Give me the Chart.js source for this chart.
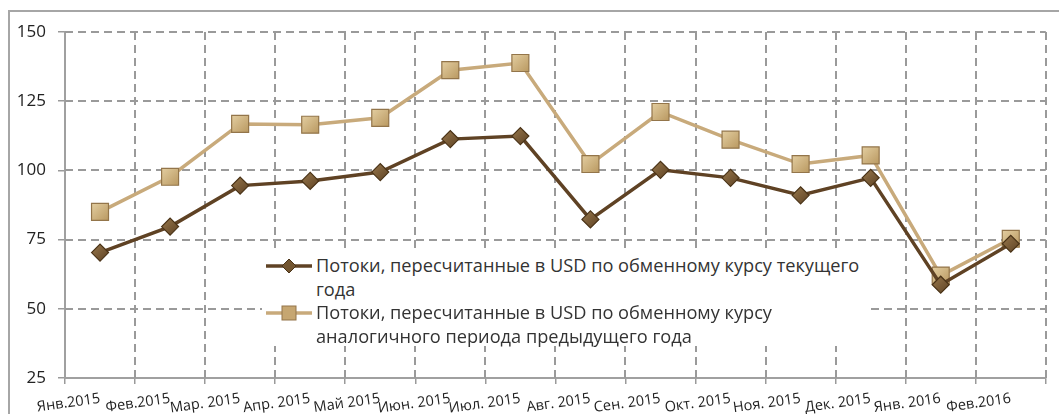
<!DOCTYPE html>
<html>
<head>
<meta charset="utf-8">
<script src="https://cdn.jsdelivr.net/npm/chart.js@4/dist/chart.umd.min.js"></script>
<style>
  html, body { margin: 0; padding: 0; background: #fff; }
  #wrap { position: relative; width: 1059px; height: 414px; overflow: hidden; }
  #frame { position: absolute; left: 8px; top: 10px; width: 1200px; height: 600px;
           border-left: 2px solid #a6a6a6; border-top: 2px solid #a6a6a6; box-sizing: border-box; }
  canvas { position: absolute; left: 0; top: 0; }
  #legend { position: absolute; left: 262px; top: 252px; width: 604px; height: 94px; background: #fff;
            font-family: "Open Sans", sans-serif; font-size: 18.2px; color: #333; }
  .item { position: absolute; left: 0; }
  .item svg { position: absolute; left: 4px; }
  .item .txt { position: absolute; left: 54px; white-space: pre; line-height: 23.5px; }
</style>
</head>
<body>
<div id="wrap">
  <div id="frame"></div>
  <canvas id="c" width="1059" height="414"></canvas>
  <div id="legend"></div>
</div>
<script>
const categories = ['Янв.2015','Фев.2015','Мар. 2015','Апр. 2015','Май 2015','Июн. 2015','Июл. 2015',
                    'Авг. 2015','Сен. 2015','Окт. 2015','Ноя. 2015','Дек. 2015','Янв. 2016','Фев.2016'];
const seriesCurrent = [70.3, 79.7, 94.5, 96.2, 99.4, 111.3, 112.4, 82.3, 100.2, 97.3, 91.0, 97.3, 58.7, 73.5];
const seriesPrevious = [85.0, 97.7, 116.8, 116.5, 119.0, 136.2, 138.8, 102.3, 121.1, 111.1, 102.3, 105.4, 62.0, 75.3];
const seriesNames = ['Потоки, пересчитанные в USD по обменному курсу текущего\nгода',
                     'Потоки, пересчитанные в USD по обменному курсу\nаналогичного периода предыдущего года'];
const yTicks = [25, 50, 75, 100, 125, 150];

const darkLine = '#5f4224', darkFill = '#735530', darkBorder = '#4a3317';
const lightLine = '#c8aa7b', lightFill = '#c6a671', lightBorder = '#93754a';
const gridColor = '#9a9a9a';

function grad(ctx, c1, c2) {
  const el = ctx.element;
  if (!el || el.x === undefined) return c1;
  const g = ctx.chart.ctx.createLinearGradient(el.x - 9, el.y - 9, el.x + 9, el.y + 9);
  g.addColorStop(0, c2); g.addColorStop(1, c1);
  return g;
}

// dashed grid drawn from the chart's own scales
const dashedGrid = {
  id: 'dashedGrid',
  beforeDatasetsDraw(chart) {
    const { ctx, chartArea: a, scales: { x, y } } = chart;
    ctx.save();
    ctx.strokeStyle = gridColor;
    ctx.lineWidth = 2;
    ctx.setLineDash([8, 5]);
    y.ticks.forEach(t => {
      const py = Math.round(y.getPixelForValue(t.value));
      if (t.value === y.min) return;
      ctx.beginPath(); ctx.moveTo(a.left, py); ctx.lineTo(a.right, py); ctx.stroke();
    });
    for (let i = 1; i <= categories.length; i++) {
      const px = Math.round(x.getPixelForValue(i - 0.5));
      ctx.beginPath(); ctx.moveTo(px, a.top); ctx.lineTo(px, a.bottom); ctx.stroke();
    }
    ctx.restore();
  }
};

new Chart(document.getElementById('c'), {
  type: 'line',
  data: {
    labels: categories,
    datasets: [
      { label: seriesNames[1], data: seriesPrevious, borderColor: lightLine, borderWidth: 3.5,
        pointStyle: 'rect', pointRadius: 12, pointHoverRadius: 12,
        pointBackgroundColor: c => grad(c, '#b8975f', '#e4cfa2'), pointBorderColor: lightBorder, pointBorderWidth: 1.2,
        tension: 0, order: 2 },
      { label: seriesNames[0], data: seriesCurrent, borderColor: darkLine, borderWidth: 3.5,
        pointStyle: 'rectRot', pointRadius: 8.5, pointHoverRadius: 8.5,
        pointBackgroundColor: c => grad(c, '#5c4022', '#9a7a4e'), pointBorderColor: darkBorder, pointBorderWidth: 1.2,
        tension: 0, order: 1 }
    ]
  },
  plugins: [dashedGrid],
  options: {
    responsive: false,
    animation: false,
    events: [],
    layout: { padding: { left: 0, right: 10, top: 32, bottom: 0 } },
    plugins: { legend: { display: false }, tooltip: { enabled: false } },
    scales: {
      x: {
        offset: true,
        afterFit: s => { s.height = 36; },
        grid: { display: true, offset: true, drawOnChartArea: false, color: gridColor, lineWidth: 1.5,
                drawTicks: true, tickLength: 6, tickColor: gridColor, tickWidth: 1.5 },
        border: { display: true, color: '#a0a0a0', width: 2 },
        ticks: { minRotation: 8, maxRotation: 8, padding: 6, color: '#222',
                 font: { family: 'Open Sans', size: 14.5 }, autoSkip: false }
      },
      y: {
        min: 25, max: 150,
        afterFit: s => { s.width = 65; },
        afterBuildTicks: s => { s.ticks = yTicks.map(v => ({ value: v })); },
        grid: { drawOnChartArea: false, color: gridColor, lineWidth: 1.5, tickLength: 7,
                tickColor: gridColor, tickWidth: 1.5 },
        border: { display: true, color: '#a0a0a0', width: 2 },
        ticks: { padding: 12, color: '#222', font: { family: 'Open Sans', size: 17 } }
      }
    }
  }
});

// HTML legend
const leg = document.getElementById('legend');
const items = [
  { name: seriesNames[0], top: 2, svg: `<svg width="46" height="20" viewBox="0 0 46 20"><line x1="0" y1="10" x2="46" y2="10" stroke="${darkLine}" stroke-width="3.5"/><polygon points="23,3 30,10 23,17 16,10" fill="${darkFill}" stroke="${darkBorder}" stroke-width="1"/></svg>` },
  { name: seriesNames[1], top: 49, svg: `<svg width="46" height="20" viewBox="0 0 46 20"><line x1="0" y1="10" x2="46" y2="10" stroke="${lightLine}" stroke-width="3.5"/><rect x="16" y="3" width="14" height="14" fill="${lightFill}" stroke="${lightBorder}" stroke-width="1"/></svg>` }
];
items.forEach(it => {
  const d = document.createElement('div');
  d.className = 'item';
  d.style.top = it.top + 'px';
  d.innerHTML = it.svg.replace('<svg', '<svg style="top:2px"') + '<div class="txt"></div>';
  d.querySelector('.txt').textContent = it.name;
  leg.appendChild(d);
});
</script>
</body>
</html>
